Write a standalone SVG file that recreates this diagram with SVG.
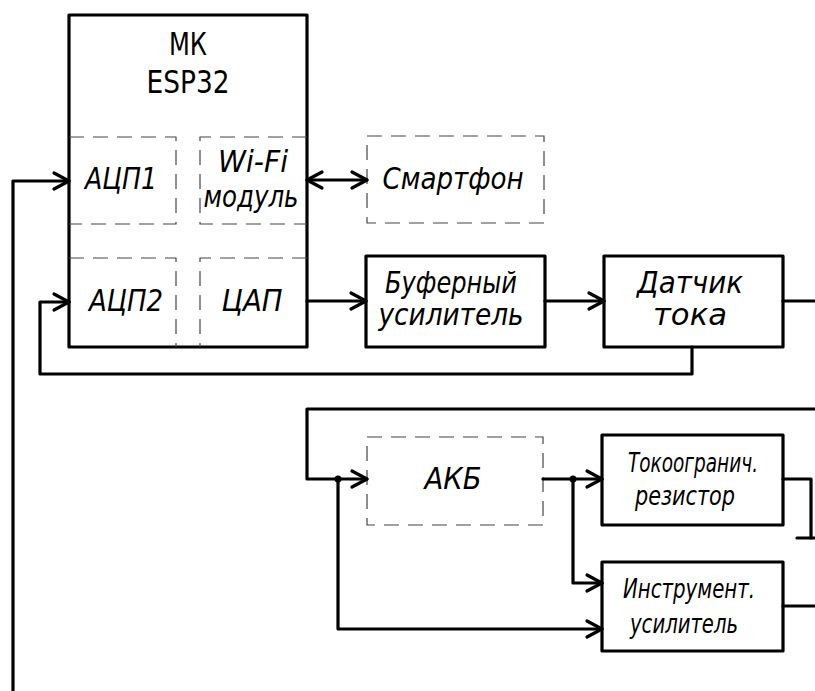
<svg xmlns="http://www.w3.org/2000/svg" width="815" height="691" viewBox="0 0 815 691">
<style>
.box{fill:none;stroke:#000;stroke-width:3.2;stroke-linejoin:round}
.dash{fill:none;stroke:#444;stroke-width:1.2;stroke-dasharray:15 9}
.w{fill:none;stroke:#000;stroke-width:3.2;stroke-linejoin:round;stroke-linecap:round}
.a{marker-end:url(#ah)}
.t{font-family:"DejaVu Sans Condensed","DejaVu Sans",sans-serif;font-style:italic;font-size:30px;fill:#000;text-anchor:middle}
.s{font-size:26px}
.u{font-family:"DejaVu Sans","Liberation Sans",sans-serif;font-size:32px;fill:#000;text-anchor:middle}
</style>
<defs>
<marker id="ah" markerUnits="userSpaceOnUse" viewBox="-20 -12 24 24" refX="0" refY="0" markerWidth="24" markerHeight="24" orient="auto-start-reverse">
<path d="M-15 -8 L0 0 L-15 8" fill="none" stroke="#000" stroke-width="3.2" stroke-linecap="round" stroke-linejoin="round"/>
</marker>
</defs>
<g id="mk">
<rect class="box" x="69" y="15" width="238" height="332"/>
<text class="u" x="188" y="55" textLength="38" lengthAdjust="spacingAndGlyphs">МК</text>
<text class="u" x="188" y="93" textLength="83" lengthAdjust="spacingAndGlyphs">ESP32</text>
</g>
<g id="adc1">
<path class="dash" d="M69 137 H176 V224 H69"/>
<text class="t" x="121" y="189" textLength="72" lengthAdjust="spacingAndGlyphs">АЦП1</text>
</g>
<g id="wifi">
<path class="dash" d="M307 137 H200 V224 H307"/>
<text class="t" x="253" y="172" textLength="70" lengthAdjust="spacingAndGlyphs">Wi-Fi</text>
<text class="t" x="251" y="207" textLength="95" lengthAdjust="spacingAndGlyphs">модуль</text>
</g>
<g id="adc2">
<path class="dash" d="M69 258 H176 V347"/>
<text class="t" x="126" y="311" textLength="74" lengthAdjust="spacingAndGlyphs">АЦП2</text>
</g>
<g id="dac">
<path class="dash" d="M307 258 H200 V347"/>
<text class="t" x="252" y="311" textLength="61" lengthAdjust="spacingAndGlyphs">ЦАП</text>
</g>
<g id="phone">
<rect class="dash" x="367" y="136" width="177" height="87"/>
<text class="t" x="453" y="189" textLength="141" lengthAdjust="spacingAndGlyphs">Смартфон</text>
</g>
<g id="buf">
<rect class="box" x="366" y="256" width="179" height="91"/>
<text class="t" x="451" y="293" textLength="132" lengthAdjust="spacingAndGlyphs">Буферный</text>
<text class="t" x="451" y="325" textLength="145" lengthAdjust="spacingAndGlyphs">усилитель</text>
</g>
<g id="sensor">
<rect class="box" x="604" y="256" width="179" height="91"/>
<text class="t" x="690" y="293" textLength="106" lengthAdjust="spacingAndGlyphs">Датчик</text>
<text class="t" x="690" y="325" textLength="74" lengthAdjust="spacingAndGlyphs">тока</text>
</g>
<g id="akb">
<rect class="dash" x="367" y="437" width="176" height="88"/>
<text class="t" x="453" y="489" textLength="57" lengthAdjust="spacingAndGlyphs">АКБ</text>
</g>
<g id="resistor">
<rect class="box" x="602" y="435" width="181" height="90"/>
<text class="t s" x="693" y="472" textLength="130" lengthAdjust="spacingAndGlyphs">Токоогранич.</text>
<text class="t s" x="685" y="505" textLength="100" lengthAdjust="spacingAndGlyphs">резистор</text>
</g>
<g id="instamp">
<rect class="box" x="602" y="562" width="181" height="89"/>
<text class="t s" x="689" y="598" textLength="132" lengthAdjust="spacingAndGlyphs">Инструмент.</text>
<text class="t s" x="684" y="633" textLength="108" lengthAdjust="spacingAndGlyphs">усилитель</text>
</g>
<g id="connectors">
<path class="w a" d="M13 691 V181 H69"/>
<path class="w a" d="M692 347 V374 H40 V302 H69"/>
<path class="w a" d="M307 180 H367" style="marker-start:url(#ah)"/>
<path class="w a" d="M307 301 H366"/>
<path class="w a" d="M545 301 H604"/>
<path class="w" d="M783 301 H816"/>
<path class="w a" d="M816 409 H307 V479 H367"/>
<path class="w a" d="M338 479 V629 H602"/>
<path class="w a" d="M543 479 H602"/>
<path class="w a" d="M573 479 V583 H602"/>
<path class="w" d="M783 479 H811 V538"/>
<path class="w" d="M797 538 H816"/>
<path class="w" d="M783 606 H816"/>
<circle cx="338" cy="479" r="3.5" fill="#000"/>
<circle cx="573" cy="479" r="3.5" fill="#000"/>
</g>
</svg>
